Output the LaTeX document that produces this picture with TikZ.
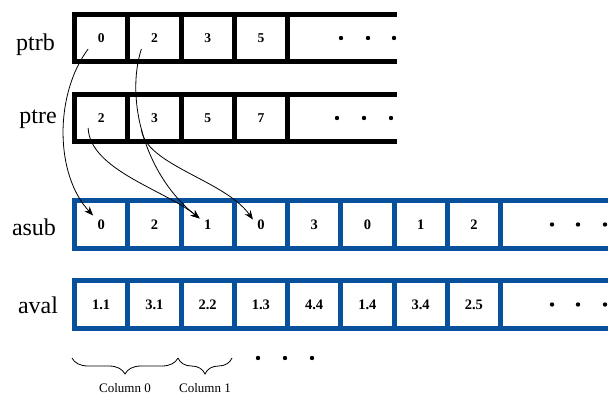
\documentclass[tikz,border=0pt]{standalone}
\usepackage{fontspec}
\setmainfont{Liberation Serif}
\usetikzlibrary{arrows.meta,calc,decorations.pathreplacing}
\definecolor{arrblue}{RGB}{6,80,156}
\tikzset{
  cell/.style={font=\fontsize{13.5}{14}\selectfont\bfseries, inner sep=0pt},
  bcell/.style={font=\fontsize{14.5}{15}\selectfont\bfseries, inner sep=0pt},
  rowlabel/.style={font=\fontsize{24}{24}\selectfont, anchor=base, inner sep=0pt},
  frame/.style={line width=5pt},
  ptr/.style={-{Stealth[length=9pt,width=7pt]}, line width=0.8pt},
  collabel/.style={font=\fontsize{13}{13}\selectfont, anchor=base, inner sep=0pt},
}
\begin{document}
\begin{tikzpicture}[x=1pt,y=-1pt]
\useasboundingbox (0,0) rectangle (608,394);

% black arrays
\foreach \t/\b in {14.5/61.5, 94.5/141.5} {
  \draw[frame] (72,\t) -- (397,\t);
  \draw[frame] (72,\b) -- (397,\b);
  \foreach \x in {74.5,127.75,181,234.25,287.5}
    \draw[frame] (\x,\t) -- (\x,\b);
}
% blue arrays
\foreach \t/\b in {200.5/248.5, 280.5/328.5} {
  \draw[frame, arrblue] (72,\t) -- (608,\t);
  \draw[frame, arrblue] (72,\b) -- (608,\b);
  \foreach \x in {74.5,127.75,181,234.25,287.5,340.75,394,447.25,500.5}
    \draw[frame, arrblue] (\x,\t) -- (\x,\b);
}

\node[rowlabel] (lptrb) at (35.5,50) {ptrb};
\node[rowlabel] (lptre) at (38,123) {ptre};
\node[rowlabel] (lasub) at (34,235) {asub};
\node[rowlabel] (laval) at (38,313) {aval};

\foreach \v [count=\i from 0] in {0,2,3,5}
  \node[cell] (ptrb\i) at ({101.125+53.25*\i},38) {\v};
\foreach \v [count=\i from 0] in {2,3,5,7}
  \node[cell] (ptre\i) at ({101.125+53.25*\i},118) {\v};
\foreach \v [count=\i from 0] in {0,2,1,0,3,0,1,2}
  \node[bcell] (asub\i) at ({101.125+53.25*\i},224.5) {\v};
\foreach \v [count=\i from 0] in {1.1,3.1,2.2,1.3,4.4,1.4,3.4,2.5}
  \node[bcell] (aval\i) at ({101.125+53.25*\i},304.5) {\v};

% dots
\foreach \x/\y in {341/38,368/38,394/38, 337/118,364/118,391/118,
  552/224.5,578/224.5,605/224.5, 552/304.5,578/304.5,605/304.5,
  258/358,285/358,312/358}
  \fill (\x,\y) circle (2.2);

\draw[ptr] ($(ptrb0)+(-13,11)$) .. controls (54,95) and (55,175) .. ($(asub0)+(-8,-9)$);
\draw[ptr] ($(ptrb1)+(-13,11)$) .. controls (125,100) and (145,175) .. ($(asub2)+(-8,-6)$);
\draw[ptr] ($(ptre0)+(-13,10)$) .. controls (90,170) and (165,190) .. ($(asub2)+(-8,-6)$);
\draw[ptr] ($(ptre1)+(-13,11)$) .. controls (145,165) and (225,180) .. ($(asub3)+(-8,-5)$);

\draw[line width=0.8pt, decorate, decoration={brace, mirror, amplitude=16pt}] (72,358) -- (178,358);
\draw[line width=0.8pt, decorate, decoration={brace, mirror, amplitude=16pt}] (178,358) -- (232,358);
\node[collabel] (col0) at (125,392) {Column 0};
\node[collabel] (col1) at (205,392) {Column 1};
\end{tikzpicture}
\end{document}
